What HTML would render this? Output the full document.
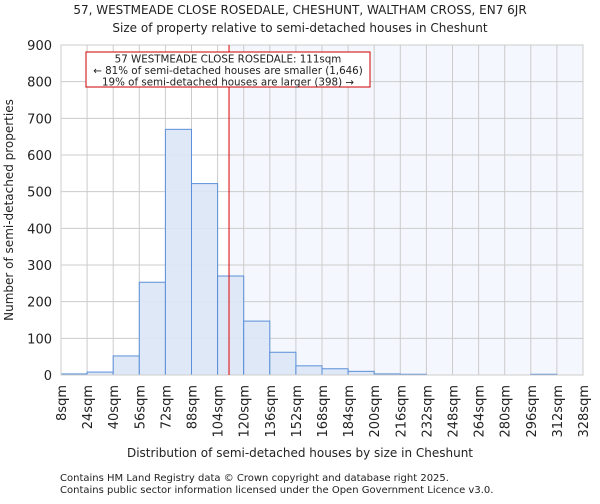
<!DOCTYPE html>
<html><head><meta charset="utf-8"><style>
body{margin:0;background:#fff;font-family:"DejaVu Sans","Liberation Sans",sans-serif}
svg text{font-family:"DejaVu Sans","Liberation Sans",sans-serif;fill:#222}
</style></head><body>
<svg id="chart" width="600" height="500">
<text x="300" y="14" font-size="12" text-anchor="middle">57, WESTMEADE CLOSE ROSEDALE, CHESHUNT, WALTHAM CROSS, EN7 6JR</text>
<text x="300" y="32" font-size="12" text-anchor="middle">Size of property relative to semi-detached houses in Cheshunt</text>
<g id="plot"></g>
<text x="300" y="457" font-size="12" text-anchor="middle">Distribution of semi-detached houses by size in Cheshunt</text>
<text transform="translate(13,210) rotate(-90)" font-size="12" text-anchor="middle">Number of semi-detached properties</text>
<text x="60" y="481" font-size="10">Contains HM Land Registry data © Crown copyright and database right 2025.</text>
<text x="60" y="493" font-size="10">Contains public sector information licensed under the Open Government Licence v3.0.</text>
</svg>
<script>
const binStarts=[8,24,40,56,72,88,104,120,136,152,168,184,200,216,232,248,264,280,296,312];
const counts=[3,8,52,253,670,522,270,147,62,25,17,10,3,2,0,0,0,0,2,0];
const yTicks=[0,100,200,300,400,500,600,700,800,900];
const xTicks=[8,24,40,56,72,88,104,120,136,152,168,184,200,216,232,248,264,280,296,312,328];
const propertySize=111;
const NS="http://www.w3.org/2000/svg";
const L=61,R=583,T=45,B=375;
const xs=v=>L+(v-8)/(328-8)*(R-L);
const ys=v=>B-v/900*(B-T);
const g=document.getElementById('plot');
function mk(t,a,p){const e=document.createElementNS(NS,t);for(const k in a)e.setAttribute(k,a[k]);(p||g).appendChild(e);return e;}
const shade=mk('rect',{x:xs(propertySize),y:T,width:R-xs(propertySize),height:B-T,fill:'#f4f7fd'});


yTicks.forEach(v=>{const l=mk('line',{x1:L,x2:R,y1:ys(v),y2:ys(v),stroke:'#ccc'});


const t=mk('text',{x:L-9,y:ys(v)+5,'font-size':13,'text-anchor':'end'});t.textContent=v;

});
xTicks.forEach(v=>{const l=mk('line',{x1:xs(v),x2:xs(v),y1:T,y2:B,stroke:'#ccc'});


const t=mk('text',{transform:`translate(${xs(v)+5},${B+10}) rotate(-90)`,'font-size':13,'text-anchor':'end'});t.textContent=v+'sqm';

});
binStarts.forEach((s,i)=>{if(counts[i]<=0)return;const r=mk('rect',{x:xs(s),y:ys(counts[i]),width:xs(s+16)-xs(s),height:B-ys(counts[i]),fill:'#dce6f5',stroke:'#5b8fd9','stroke-width':1,'fill-opacity':0.9});

});
const ax=mk('rect',{x:L,y:T,width:R-L,height:B-T,fill:'none',stroke:'#ccc'});


const rl=mk('line',{x1:xs(propertySize),x2:xs(propertySize),y1:T,y2:B,stroke:'#d00','stroke-width':1});


const box=mk('rect',{x:86,y:52,width:284,height:35,fill:'#fff',stroke:'#c00'});


['57 WESTMEADE CLOSE ROSEDALE: 111sqm','← 81% of semi-detached houses are smaller (1,646)','19% of semi-detached houses are larger (398) →'].forEach((s,i)=>{const t=mk('text',{x:228,y:62.5+i*11.5,'font-size':10.3,'text-anchor':'middle'});t.textContent=s;

});
</script>
</body></html>
